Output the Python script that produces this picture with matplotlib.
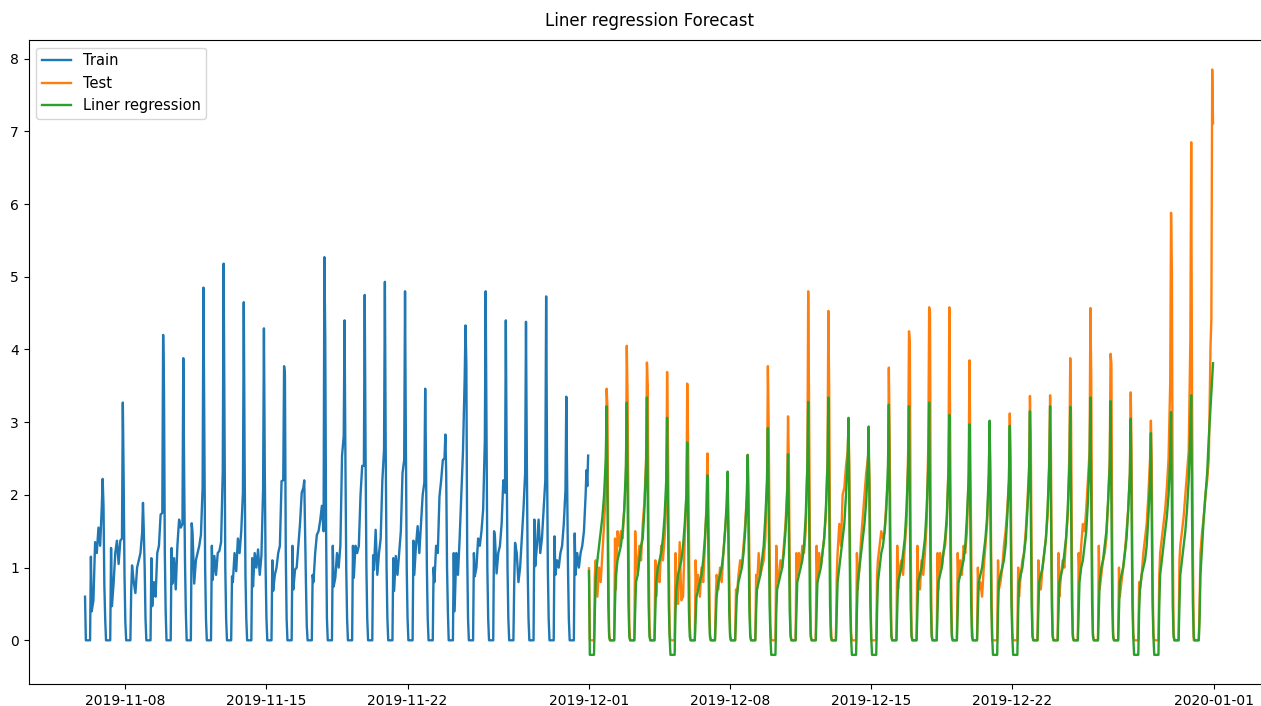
import pandas as pd
import matplotlib
matplotlib.use('Agg')
import matplotlib.pyplot as plt
import matplotlib.dates as mdates

# ====================================================================
# Data (hourly load, one row per day)
# Row values are at hours HOURS; hours 1..6 sit at the night level.
# ====================================================================

HOURS = [0, 7, 8, 10, 12, 14, 16, 18, 20, 21, 22, 23]
NIGHT_HOURS = [1, 6]

TRAIN_START = '2019-11-06'
TEST_START = '2019-12-01'

# Train: 2019-11-06 .. 2019-11-30
train_rows = [
    [0.60, 1.15, 0.40, 0.55, 1.35, 1.20, 1.55, 1.30, 1.85, 2.22, 1.85, 0.76],
    [0.30, 1.27, 0.47, 0.78, 1.20, 1.37, 1.05, 1.37, 1.40, 3.27, 2.20, 0.90],
    [0.25, 0.69, 1.03, 0.80, 0.65, 1.00, 1.10, 1.20, 1.48, 1.89, 1.50, 1.00],
    [0.30, 1.13, 0.47, 0.80, 0.60, 1.20, 1.30, 1.73, 1.75, 4.20, 3.47, 1.20],
    [0.40, 1.27, 0.78, 1.13, 0.70, 1.31, 1.66, 1.55, 1.60, 3.88, 2.30, 1.10],
    [0.40, 1.61, 1.48, 0.78, 1.10, 1.20, 1.30, 1.45, 2.10, 4.85, 2.80, 1.00],
    [0.30, 1.30, 0.83, 1.16, 0.90, 1.20, 1.23, 1.35, 2.33, 5.18, 3.00, 1.00],
    [0.30, 0.88, 0.80, 1.20, 0.95, 1.40, 1.20, 1.50, 2.03, 4.65, 2.50, 0.90],
    [0.30, 1.13, 0.74, 1.20, 1.00, 1.25, 0.90, 1.16, 2.07, 4.29, 2.37, 1.00],
    [0.30, 1.10, 0.68, 0.90, 1.00, 1.20, 1.30, 2.19, 2.20, 3.77, 3.65, 1.20],
    [0.30, 1.30, 0.70, 0.97, 1.00, 1.30, 1.61, 2.03, 2.10, 2.20, 1.50, 0.80],
    [0.20, 0.90, 0.80, 1.20, 1.45, 1.50, 1.65, 1.85, 1.50, 5.27, 4.17, 1.50],
    [0.30, 1.30, 0.74, 0.86, 1.20, 1.00, 1.30, 2.54, 2.81, 4.40, 2.50, 1.00],
    [0.30, 1.30, 0.86, 1.30, 1.20, 1.30, 2.00, 2.40, 2.40, 4.75, 2.60, 1.00],
    [0.30, 1.17, 0.97, 1.52, 0.90, 1.20, 1.40, 2.20, 2.62, 4.93, 2.60, 1.00],
    [0.30, 1.13, 0.68, 1.16, 0.90, 1.20, 1.50, 2.30, 2.48, 4.80, 2.70, 1.00],
    [0.30, 1.37, 0.90, 1.30, 1.57, 1.20, 1.60, 2.00, 2.17, 3.46, 2.40, 1.00],
    [0.30, 1.00, 0.80, 1.30, 1.20, 1.98, 2.20, 2.48, 2.50, 2.83, 2.30, 1.00],
    [0.40, 1.20, 0.40, 1.20, 0.90, 1.40, 2.00, 2.60, 3.60, 4.33, 3.80, 1.20],
    [0.30, 1.20, 0.88, 1.00, 1.40, 1.30, 1.50, 1.80, 2.74, 4.80, 2.90, 1.00],
    [0.30, 1.50, 1.43, 0.92, 1.20, 1.30, 1.60, 2.20, 2.03, 4.40, 2.50, 1.00],
    [0.30, 0.79, 1.34, 1.20, 0.80, 1.00, 1.40, 1.80, 2.30, 4.38, 2.50, 1.00],
    [0.30, 1.66, 1.02, 1.30, 1.66, 1.20, 1.40, 1.80, 2.20, 4.73, 2.60, 1.00],
    [0.30, 1.43, 0.90, 1.10, 1.00, 1.20, 1.30, 1.60, 2.06, 3.35, 2.20, 1.00],
    [0.30, 1.47, 0.90, 1.20, 1.00, 1.20, 1.30, 1.50, 2.00, 2.34, 2.12, 2.54],
]

# Test (actual): 2019-12-01 .. 2019-12-31
test_rows = [
    [0.99, 0.90, 1.10, 0.60, 1.00, 0.80, 1.20, 1.60, 2.05, 3.46, 3.20, 1.20],
    [0.10, 1.40, 0.70, 1.50, 1.30, 1.50, 1.40, 1.80, 2.20, 4.05, 3.30, 1.60],
    [0.20, 1.50, 1.20, 0.90, 1.30, 1.10, 1.60, 1.90, 2.50, 3.82, 3.50, 1.20],
    [0.20, 1.10, 0.60, 1.00, 0.80, 1.30, 1.10, 1.40, 1.90, 3.69, 2.80, 1.20],
    [0.10, 1.20, 0.80, 0.50, 1.35, 0.55, 0.60, 1.40, 2.00, 3.53, 2.70, 1.40],
    [0.20, 1.10, 0.70, 0.90, 0.60, 1.00, 0.80, 1.30, 1.90, 2.57, 2.00, 1.00],
    [0.10, 0.60, 0.90, 0.70, 1.00, 0.80, 1.20, 1.50, 1.80, 2.25, 1.60, 0.80],
    [0.10, 0.70, 0.60, 0.90, 1.10, 1.00, 1.30, 1.60, 2.00, 2.55, 2.00, 1.00],
    [0.10, 0.90, 0.70, 1.20, 0.90, 1.00, 1.10, 1.40, 2.20, 3.77, 2.90, 1.40],
    [0.20, 1.30, 0.80, 0.90, 1.10, 1.00, 1.30, 1.60, 2.10, 3.08, 2.40, 1.00],
    [0.10, 1.20, 0.90, 1.20, 1.00, 1.30, 1.20, 1.50, 2.40, 4.80, 3.30, 1.40],
    [0.10, 1.30, 0.80, 1.20, 1.00, 1.20, 1.40, 1.70, 2.50, 4.53, 3.40, 1.40],
    [0.20, 0.90, 1.20, 1.60, 1.30, 2.00, 2.10, 2.40, 2.60, 2.95, 2.40, 0.90],
    [0.10, 1.20, 0.70, 1.00, 1.40, 1.70, 2.00, 2.30, 2.50, 2.60, 2.20, 0.90],
    [0.00, 0.90, 1.10, 1.30, 1.50, 1.40, 1.50, 1.90, 2.20, 3.75, 2.80, 1.30],
    [0.10, 1.30, 0.70, 1.00, 1.10, 0.90, 1.30, 1.60, 2.60, 4.25, 4.10, 1.40],
    [0.10, 1.30, 0.80, 0.70, 1.10, 0.90, 1.20, 1.60, 2.70, 4.58, 4.50, 1.20],
    [0.10, 1.20, 0.70, 1.20, 1.00, 1.20, 1.30, 1.60, 2.40, 4.58, 2.90, 1.20],
    [0.10, 1.20, 0.80, 1.10, 0.90, 1.30, 1.20, 1.50, 2.30, 3.85, 2.60, 1.20],
    [0.20, 1.00, 0.70, 0.80, 0.60, 1.00, 1.30, 1.60, 2.20, 2.95, 2.30, 1.00],
    [0.00, 1.10, 0.70, 0.80, 1.00, 1.30, 1.50, 1.80, 2.20, 3.12, 2.50, 1.00],
    [0.10, 1.00, 0.60, 0.90, 1.10, 1.20, 1.50, 1.90, 2.40, 3.36, 2.80, 1.20],
    [0.10, 1.10, 0.80, 0.70, 1.00, 1.20, 1.40, 1.70, 2.50, 3.37, 2.60, 1.00],
    [0.10, 1.20, 0.60, 0.90, 1.10, 1.00, 1.40, 1.70, 2.60, 3.88, 3.00, 1.10],
    [0.10, 1.20, 0.90, 1.30, 1.60, 1.50, 1.80, 2.20, 2.60, 4.57, 3.60, 1.20],
    [0.10, 1.30, 0.70, 0.90, 1.10, 1.20, 1.40, 1.90, 2.50, 3.94, 3.80, 1.20],
    [0.10, 1.00, 0.60, 0.80, 1.00, 1.20, 1.50, 1.80, 2.30, 3.41, 2.60, 1.00],
    [0.10, 0.80, 0.70, 0.90, 1.20, 1.40, 1.60, 2.00, 2.50, 3.02, 2.50, 0.90],
    [0.10, 0.90, 1.20, 1.40, 1.60, 1.80, 2.10, 2.50, 3.54, 5.88, 5.09, 1.50],
    [0.10, 1.10, 1.30, 1.50, 1.70, 2.00, 2.30, 2.60, 4.14, 6.85, 3.35, 1.20],
    [0.00, 0.50, 1.20, 1.50, 1.70, 2.00, 2.20, 2.50, 4.05, 4.41, 7.85, 7.11],
]

# Linear regression forecast over the test period
pred_rows = [
    [0.95, 0.40, 0.85, 1.10, 1.30, 1.50, 1.70, 2.00, 2.50, 3.22, 2.00, 0.50],
    [0.05, 0.50, 0.90, 1.10, 1.20, 1.30, 1.50, 1.80, 2.40, 3.27, 2.00, 0.50],
    [0.05, 0.40, 0.80, 0.90, 1.10, 1.30, 1.40, 1.80, 2.40, 3.34, 2.00, 0.50],
    [0.05, 0.40, 0.80, 1.00, 1.10, 1.20, 1.40, 1.70, 2.20, 3.06, 1.80, 0.50],
    [0.05, 0.40, 0.70, 0.90, 1.00, 1.10, 1.30, 1.60, 2.00, 2.72, 1.60, 0.40],
    [0.05, 0.30, 0.60, 0.70, 0.80, 0.90, 1.10, 1.40, 1.80, 2.27, 1.40, 0.40],
    [0.05, 0.30, 0.60, 0.80, 0.90, 1.00, 1.20, 1.50, 1.90, 2.32, 1.40, 0.40],
    [0.05, 0.30, 0.60, 0.80, 0.90, 1.00, 1.20, 1.50, 2.00, 2.55, 1.50, 0.40],
    [0.05, 0.40, 0.70, 0.80, 0.90, 1.10, 1.30, 1.70, 2.20, 2.92, 1.70, 0.50],
    [0.05, 0.40, 0.70, 0.80, 0.90, 1.00, 1.20, 1.50, 2.00, 2.56, 1.50, 0.40],
    [0.05, 0.40, 0.80, 0.90, 1.00, 1.10, 1.30, 1.70, 2.40, 3.28, 1.90, 0.50],
    [0.05, 0.40, 0.80, 0.90, 1.00, 1.20, 1.40, 1.80, 2.40, 3.34, 1.90, 0.50],
    [0.05, 0.40, 0.80, 1.00, 1.20, 1.40, 1.60, 2.00, 2.50, 3.06, 1.80, 0.50],
    [0.05, 0.40, 0.80, 1.00, 1.20, 1.40, 1.60, 1.90, 2.40, 2.94, 1.80, 0.50],
    [0.05, 0.40, 0.80, 1.00, 1.20, 1.30, 1.50, 1.80, 2.40, 3.24, 1.90, 0.50],
    [0.05, 0.40, 0.80, 0.90, 1.00, 1.20, 1.40, 1.80, 2.40, 3.22, 1.90, 0.50],
    [0.05, 0.40, 0.80, 0.90, 1.00, 1.20, 1.40, 1.80, 2.40, 3.27, 1.90, 0.50],
    [0.05, 0.40, 0.80, 0.90, 1.00, 1.20, 1.40, 1.70, 2.30, 3.10, 1.80, 0.50],
    [0.05, 0.40, 0.80, 0.90, 1.00, 1.10, 1.30, 1.70, 2.20, 2.97, 1.70, 0.50],
    [0.05, 0.40, 0.80, 0.90, 1.00, 1.20, 1.40, 1.70, 2.30, 3.02, 1.80, 0.50],
    [0.05, 0.40, 0.80, 0.90, 1.00, 1.10, 1.30, 1.70, 2.20, 2.95, 1.70, 0.50],
    [0.05, 0.40, 0.80, 0.90, 1.00, 1.20, 1.40, 1.80, 2.30, 3.15, 1.80, 0.50],
    [0.05, 0.40, 0.80, 0.90, 1.00, 1.20, 1.40, 1.80, 2.40, 3.22, 1.90, 0.50],
    [0.05, 0.40, 0.80, 0.90, 1.00, 1.20, 1.40, 1.80, 2.40, 3.21, 1.90, 0.50],
    [0.05, 0.40, 0.80, 1.00, 1.10, 1.30, 1.50, 1.90, 2.50, 3.34, 2.00, 0.50],
    [0.05, 0.40, 0.80, 1.00, 1.10, 1.30, 1.50, 1.90, 2.40, 3.29, 1.90, 0.50],
    [0.05, 0.40, 0.80, 0.90, 1.00, 1.20, 1.40, 1.80, 2.30, 3.05, 1.80, 0.50],
    [0.05, 0.40, 0.70, 0.90, 1.00, 1.10, 1.30, 1.70, 2.20, 2.85, 1.70, 0.50],
    [0.05, 0.50, 0.90, 1.10, 1.30, 1.50, 1.70, 2.00, 2.50, 3.14, 1.90, 0.50],
    [0.05, 0.50, 0.90, 1.10, 1.30, 1.50, 1.80, 2.20, 2.90, 3.37, 1.74, 0.50],
    [0.05, 0.30, 0.90, 1.30, 1.70, 2.00, 2.30, 2.80, 3.20, 3.40, 3.62, 3.81],
]

# Night level of the forecast (it dips below zero on some days)
pred_night = [-0.2, 0, 0, 0, -0.2, 0, 0, 0, 0, -0.2, 0, 0, 0, -0.2, -0.2, 0,
              0, 0, 0, 0, -0.2, -0.2, 0, 0, 0, 0, 0, -0.2, -0.2, 0, 0]


def build_series(start, rows, night=None):
    """Turn the per-day rows into one hourly-indexed series."""
    hours = [HOURS[0]] + NIGHT_HOURS + HOURS[1:]
    times, values = [], []
    for d, row in enumerate(rows):
        day = pd.Timestamp(start) + pd.Timedelta(days=d)
        z = 0.0 if night is None else night[d]
        for h, v in zip(hours, [row[0], z, z] + row[1:]):
            times.append(day + pd.Timedelta(hours=h))
            values.append(v)
    return pd.Series(values, index=pd.DatetimeIndex(times))


train = build_series(TRAIN_START, train_rows)
test = build_series(TEST_START, test_rows)
pred = build_series(TEST_START, pred_rows, pred_night)

# ====================================================================
# Plot
# ====================================================================

fig = plt.figure(figsize=(12.61, 7.06), dpi=100)
ax = fig.add_axes([0.0227, 0.031, 0.984, 0.912])

ax.plot(train.index, train.values, lw=1.7, label='Train')
ax.plot(test.index, test.values, lw=1.7, label='Test')
ax.plot(pred.index, pred.values, lw=1.7, label='Liner regression')

ax.set_title('Liner regression Forecast', pad=10)
ax.legend(loc='upper left', fontsize=10.5)
ax.xaxis.set_major_locator(mdates.DayLocator(bymonthday=[1, 8, 15, 22]))
ax.xaxis.set_major_formatter(mdates.DateFormatter('%Y-%m-%d'))

fig.savefig('out.png', dpi=100)
